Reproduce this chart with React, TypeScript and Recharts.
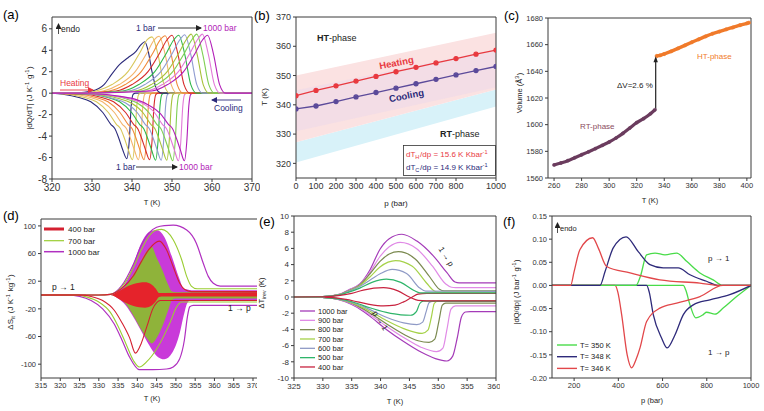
import React from 'react';
import { ComposedChart, Line, Area, XAxis, YAxis, Scatter } from 'recharts';

type P = [number, number];
type B = [number, number, number];
const pts = (a: P[]) => a.map(([x, y]) => ({ x, y }));
const rng = (a: B[]) => a.map(([x, lo, hi]) => ({ x, r: [lo, hi] }));

const FONT = '"Liberation Sans", Arial, sans-serif';
const AX = '#3a3a3a';

// ---------------- (a) ----------------
const aLabels = ['1 bar', '100 bar', '200 bar', '300 bar', '400 bar', '500 bar', '600 bar', '700 bar', '800 bar', '900 bar', '1000 bar'];
const aColors = ['#2b2a7a', '#d8c75a', '#f3b56c', '#f08a3a', '#d62a2a', '#2fb84a', '#8e9bd0', '#a8c23a', '#7fcf52', '#e27ad8', '#b21eb8'];
const aXTicks = [320, 330, 340, 350, 360, 370];
const aYTicks = [-8, -6, -4, -2, 0, 2, 4, 6];
const aHeat: P[][] = [
  [[320, 0], [326, 0.02], [330, 0.2], [333, 0.8], [335, 1.8], [337, 2.7], [339, 3.3], [341, 3.9], [342.2, 4.5], [343.2, 4.8], [344, 4.0], [345, 2.0], [346, 0.5], [347, 0.05], [348, 0], [370, 0]],
  [[320, 0], [328, 0], [331, 0.2], [335, 0.8], [339, 2.0], [342, 3.8], [343.8, 5.0], [345, 5.25], [346.5, 3.6], [348, 0.8], [349.5, 0], [370, 0]],
  [[320, 0], [328, 0], [332.8, 0.2], [336.8, 0.8], [340.8, 2.0], [343.8, 3.8], [345.6, 5.0], [346.8, 5.3], [348.3, 3.6], [349.8, 0.8], [351.3, 0], [370, 0]],
  [[320, 0], [328, 0], [334.3, 0.2], [338.3, 0.8], [342.3, 2.0], [345.3, 3.8], [347.1, 5.0], [348.3, 5.35], [349.8, 3.6], [351.3, 0.8], [352.8, 0], [370, 0]],
  [[320, 0], [328, 0], [336, 0.2], [340, 0.8], [344, 2.0], [347, 3.8], [348.8, 5.0], [350, 5.4], [351.5, 3.6], [353, 0.8], [354.5, 0], [370, 0]],
  [[320, 0], [328, 0], [337.7, 0.2], [341.7, 0.8], [345.7, 2.0], [348.7, 3.8], [350.5, 5.0], [351.7, 5.4], [353.2, 3.6], [354.7, 0.8], [356.2, 0], [370, 0]],
  [[320, 0], [328, 0], [339.2, 0.2], [343.2, 0.8], [347.2, 2.0], [350.2, 3.8], [352, 5.0], [353.2, 5.45], [354.7, 3.6], [356.2, 0.8], [357.7, 0], [370, 0]],
  [[320, 0], [328, 0], [340.8, 0.2], [344.8, 0.8], [348.8, 2.0], [351.8, 3.8], [353.6, 5.0], [354.8, 5.5], [356.3, 3.6], [357.8, 0.8], [359.3, 0], [370, 0]],
  [[320, 0], [328, 0], [342.2, 0.2], [346.2, 0.8], [350.2, 2.0], [353.2, 3.8], [355, 5.0], [356.2, 5.5], [357.7, 3.6], [359.2, 0.8], [360.7, 0], [370, 0]],
  [[320, 0], [328, 0], [343.6, 0.2], [347.6, 0.8], [351.6, 2.0], [354.6, 3.8], [356.4, 5.0], [357.6, 5.5], [359.1, 3.6], [360.6, 0.8], [362.1, 0], [370, 0]],
  [[320, 0], [328, 0], [344.9, 0.2], [348.9, 0.8], [352.9, 2.0], [355.9, 3.8], [357.7, 5.0], [358.9, 5.4], [360.4, 3.6], [361.9, 0.8], [363.4, 0], [370, 0]],
];
const aCool: P[][] = [
  [[320, 0], [322.7, -0.1], [326.7, -0.4], [329.7, -0.8], [332.7, -1.8], [334.7, -2.9], [335.7, -3.3], [336.7, -4.2], [337.7, -5.3], [338.7, -6.1], [339.3, -4.5], [339.8, -1.2], [340.3, -0.1], [340.9, 0], [370, 0]],
  [[320, 0], [324.1, -0.1], [328.1, -0.4], [331.1, -0.8], [334.1, -1.8], [336.1, -2.9], [337.1, -3.3], [338.1, -4.2], [339.1, -5.3], [340.1, -6.2], [340.7, -4.5], [341.2, -1.2], [341.7, -0.1], [342.3, 0], [370, 0]],
  [[320, 0], [325.6, -0.1], [329.6, -0.4], [332.6, -0.8], [335.6, -1.8], [337.6, -2.9], [338.6, -3.3], [339.6, -4.2], [340.6, -5.3], [341.6, -6.2], [342.2, -4.5], [342.7, -1.2], [343.2, -0.1], [343.8, 0], [370, 0]],
  [[320, 0], [327, -0.1], [331, -0.4], [334, -0.8], [337, -1.8], [339, -2.9], [340, -3.3], [341, -4.2], [342, -5.3], [343, -6.2], [343.6, -4.5], [344.1, -1.2], [344.6, -0.1], [345.2, 0], [370, 0]],
  [[320, 0], [328.4, -0.1], [332.4, -0.4], [335.4, -0.8], [338.4, -1.8], [340.4, -2.9], [341.4, -3.3], [342.4, -4.2], [343.4, -5.3], [344.4, -6.2], [345, -4.5], [345.5, -1.2], [346, -0.1], [346.6, 0], [370, 0]],
  [[320, 0], [329.9, -0.1], [333.9, -0.4], [336.9, -0.8], [339.9, -1.8], [341.9, -2.9], [342.9, -3.3], [343.9, -4.2], [344.9, -5.3], [345.9, -6.25], [346.5, -4.5], [347, -1.2], [347.5, -0.1], [348.1, 0], [370, 0]],
  [[320, 0], [328, -0.05], [331.3, -0.15], [335.3, -0.5], [338.3, -0.9], [341.3, -1.8], [343.3, -2.9], [344.3, -3.3], [345.3, -4.2], [346.3, -5.3], [347.3, -6.25], [347.9, -4.5], [348.4, -1.2], [348.9, -0.1], [349.5, 0], [370, 0]],
  [[320, 0], [329, -0.05], [332.7, -0.2], [336.7, -0.5], [339.7, -0.9], [342.7, -1.8], [344.7, -2.9], [345.7, -3.3], [346.7, -4.2], [347.7, -5.3], [348.7, -6.25], [349.3, -4.5], [349.8, -1.2], [350.3, -0.1], [350.9, 0], [370, 0]],
  [[320, 0], [330, -0.05], [334.2, -0.2], [338.2, -0.5], [341.2, -0.9], [344.2, -1.8], [346.2, -2.9], [347.2, -3.3], [348.2, -4.2], [349.2, -5.3], [350.2, -6.3], [350.8, -4.5], [351.3, -1.2], [351.8, -0.1], [352.4, 0], [370, 0]],
  [[320, 0], [330, -0.05], [335.6, -0.25], [339.6, -0.55], [342.6, -0.95], [345.6, -1.8], [347.6, -2.9], [348.6, -3.3], [349.6, -4.2], [350.6, -5.3], [351.6, -6.3], [352.2, -4.5], [352.7, -1.2], [353.2, -0.1], [353.8, 0], [370, 0]],
  [[320, 0], [330, -0.05], [337.1, -0.3], [341.1, -0.6], [344.1, -1.1], [347.1, -1.9], [349.1, -2.9], [350.1, -3.3], [351.1, -4.2], [352.1, -5.3], [353.1, -6.3], [353.7, -4.5], [354.2, -1.2], [354.7, -0.1], [355.3, 0], [370, 0]],
];

// ---------------- (b) ----------------
const bP = [0, 100, 200, 300, 400, 500, 600, 700, 800, 900, 1000];
const bHeat = [343.1, 344.9, 346.5, 348.1, 349.7, 351.3, 352.8, 354.3, 355.8, 357.3, 358.7];
const bCool = [338.6, 339.6, 341.1, 342.7, 344.2, 345.7, 347.2, 348.7, 350.2, 351.7, 353.1];
const bPinkBand: B[] = [[0, 327.2, 350], [1000, 345.2, 364.6]];
const bCyanBand: B[] = [[0, 320.3, 327.2], [1000, 339.4, 345.2]];
const bLavBand: B[] = [[0, 331, 345], [1000, 346, 359]];
const bXTicks = [0, 100, 200, 300, 400, 500, 600, 700, 800, 900, 1000];
const bYTicks = [320, 330, 340, 350, 360, 370];

// ---------------- (c) ----------------
const cRT: P[] = [[260, 1569.8], [265, 1571.3], [270, 1573], [275, 1575.2], [280, 1577.4], [285, 1579.6], [290, 1582], [295, 1584.5], [300, 1587], [305, 1590], [310, 1593.5], [315, 1597.5], [320, 1601.5], [325, 1604.5], [330, 1608.2], [333.3, 1611.2]];
const cHT: P[] = [[334.5, 1651.5], [337, 1652], [340, 1653], [345, 1655], [350, 1657.2], [355, 1659.5], [360, 1661.8], [365, 1664], [370, 1666.2], [375, 1668.2], [380, 1669.8], [385, 1671.5], [390, 1673], [395, 1674.6], [400, 1676], [401.5, 1676.5]];
const cJump: P[] = [[333.8, 1612], [333.8, 1650]];
const cHead: P[] = [[333.8, 1649]];
const cXTicks = [260, 280, 300, 320, 340, 360, 380, 400];
const cYTicks = [1560, 1580, 1600, 1620, 1640, 1660, 1680];

// ---------------- (d) ----------------
const dXTicks = [315, 320, 325, 330, 335, 340, 345, 350, 355, 360, 365, 370];
const dYTicks = [-120, -100, -80, -60, -40, -20, 0, 20, 40, 60, 80, 100];
const dFillMag: B[] = [[315, 0, 0], [333, 0, 0], [335, -5, 6], [337, -15, 18], [339, -32, 45], [341, -52, 75], [343, -72, 91], [345, -88, 94], [347, -93, 84], [349, -84, 55], [351, -55, 22], [352, -30, 9], [353, -11, 8], [354, -7, 7], [371.3, -7, 7]];
const dFillGreen: B[] = [[315, 0, 0], [333, 0, 0], [335, -4, 4], [337, -13, 13], [339, -30, 30], [341, -50, 50], [342.5, -63, 64], [343.7, -70, 70], [345, -62, 54], [346.5, -45, 36], [348, -22, 15], [349, -7, 5], [350, -5, 4], [371.3, -5, 4]];
const dFillRed: B[] = [[315, 0, 0], [333, 0, 0], [335, -5, 5], [336.5, -10, 10], [339, -16, 16], [342, -18.5, 18.5], [343.5, -16, 16], [344.8, -9, 9], [345.6, -3, 3], [346.2, -2, 3], [371.3, -2, 4]];
const dRedUp: P[] = [[315, 0], [330, 0], [333, 1], [336, 10], [339, 28], [341, 48], [343, 66], [345.7, 78], [347.6, 65], [349.3, 41], [351, 17], [352.3, 8], [354, 5], [371.3, 5]];
const dRedLo: P[] = [[315, 0], [325, 0], [328, -2], [331, -8], [334, -22], [336, -40], [338, -62], [339.5, -84], [341, -70], [342.5, -45], [344, -20], [345, -11], [346, -8], [371.3, -8]];
const dGreenUp: P[] = [[315, 0], [330, 0], [333, 1], [336, 12], [339, 40], [341, 65], [343, 85], [345, 94], [346.3, 95], [349.3, 80], [351.5, 51], [352.8, 27], [354, 13], [355.5, 9], [371.3, 9]];
const dGreenLo: P[] = [[315, 0], [324, 0], [327, -3], [330, -10], [333, -25], [335, -45], [337, -70], [339, -95], [340.5, -104], [342.5, -96], [345, -78], [348.4, -41], [350.2, -17], [351.5, -10], [371.3, -10]];
const dMagUp: P[] = [[315, 0], [330, 0], [333, 1], [336, 14], [339, 45], [341, 72], [343, 90], [345, 98], [347, 100.5], [349.3, 101], [352.8, 94], [355.3, 75], [357.1, 46], [358.4, 27], [359.7, 17], [361.5, 13], [371.3, 13]];
const dMagLo: P[] = [[315, 0], [322, 0], [325, -2], [328, -8], [331, -20], [334, -42], [336, -65], [338, -90], [340.5, -108], [344, -108], [347.6, -107], [349.3, -104], [351, -92], [352.2, -65], [353, -31], [353.6, -17], [354.5, -15], [371.3, -15]];

// ---------------- (e) ----------------
const eLabels = ['1000 bar', '900 bar', '800 bar', '700 bar', '600 bar', '500 bar', '400 bar'];
const eColors = ['#a43bb8', '#e08ae6', '#7b8a50', '#a6d24a', '#8f9ac6', '#2fb56a', '#c8233f'];
const eXTicks = [325, 330, 335, 340, 345, 350, 355, 360];
const eYTicks = [-10, -8, -6, -4, -2, 0, 2, 4, 6, 8, 10];
const eUp: P[][] = [
  [[325, 0], [330, 0.05], [333, 0.35], [334.5, 0.9], [336.4, 1.6], [338.2, 3.4], [339.9, 5.9], [341.5, 7.2], [343.7, 7.75], [346.3, 6.9], [349.1, 5.1], [351.5, 3.0], [352.9, 1.85], [353.6, 1.75], [360, 1.75]],
  [[325, 0], [330, 0.05], [333, 0.35], [334.5, 0.85], [336.4, 1.55], [338.2, 3.1], [339.9, 5.0], [341.5, 6.2], [343.4, 6.75], [346.2, 6.0], [349, 3.8], [351.3, 1.6], [352.3, 1.2], [353, 1.15], [360, 1.15]],
  [[325, 0], [330, 0.05], [333, 0.33], [334.5, 0.8], [336.4, 1.5], [338.2, 2.9], [339.9, 4.4], [341.5, 5.3], [343.1, 5.6], [346, 4.7], [348.5, 2.5], [350.2, 0.95], [351, 0.75], [360, 0.75]],
  [[325, 0], [330, 0.05], [333, 0.32], [334.5, 0.75], [336.4, 1.4], [338.2, 2.5], [339.9, 3.7], [341.3, 4.3], [342.6, 4.5], [345.5, 3.8], [348, 1.7], [349.3, 0.75], [350, 0.62], [360, 0.62]],
  [[325, 0], [330, 0.05], [333, 0.3], [334.5, 0.7], [336.4, 1.3], [338.2, 2.1], [340, 2.9], [342, 3.4], [344.5, 2.9], [346.8, 1.1], [347.8, 0.72], [360, 0.7]],
  [[325, 0], [330, 0.05], [333, 0.28], [334.5, 0.6], [336.4, 1.1], [338.5, 1.8], [341, 2.2], [343.5, 1.8], [345.8, 0.8], [346.8, 0.52], [360, 0.5]],
  [[325, 0], [330, 0.03], [333, 0.2], [335, 0.45], [337, 0.85], [340.5, 1.15], [343, 0.75], [345, 0], [346.5, -0.42], [348, -0.48], [360, -0.48]],
];
const eLo: P[][] = [
  [[325, 0], [331, -0.1], [334, -0.6], [336, -1.3], [338, -2.3], [341, -4], [344, -5.5], [347, -6.8], [349.5, -7.6], [351.5, -7.9], [352.5, -7.3], [353.3, -5], [354, -2.5], [354.7, -1.85], [355.5, -1.8], [360, -1.8]],
  [[325, 0], [331, -0.1], [334, -0.55], [336, -1.2], [338, -2.1], [341, -3.6], [344, -5], [347, -6.2], [349.7, -6.75], [350.8, -6.3], [351.5, -4], [352.2, -1.5], [353, -1.1], [360, -1.1]],
  [[325, 0], [331, -0.1], [334, -0.5], [336, -1.1], [338, -1.9], [341, -3.3], [344, -4.6], [346.5, -5.4], [348.4, -5.6], [349.4, -5.2], [350.1, -3], [350.7, -1], [351.3, -0.75], [360, -0.75]],
  [[325, 0], [331, -0.1], [334, -0.5], [336, -1.0], [338, -1.7], [341, -2.9], [344, -3.9], [347.2, -4.5], [348.2, -4.1], [348.8, -2.5], [349.3, -0.8], [349.9, -0.5], [360, -0.5]],
  [[325, 0], [331, -0.1], [334, -0.45], [336, -0.9], [338, -1.5], [341, -2.5], [344, -3.2], [346.3, -3.4], [347.3, -3.1], [347.9, -1.8], [348.4, -0.7], [349, -0.55], [360, -0.55]],
  [[325, 0], [331, -0.1], [334, -0.4], [336, -0.8], [338, -1.3], [341, -1.9], [343.5, -2.2], [345.2, -2.25], [346.2, -1.8], [346.8, -0.8], [347.4, -0.5], [360, -0.5]],
  [[325, 0], [331, -0.05], [334, -0.3], [336, -0.6], [338, -0.9], [340.5, -1.1], [342.5, -1.0], [344, -0.6], [345.5, 0], [346.5, 0.35], [348, 0.45], [360, 0.45]],
];

// ---------------- (f) ----------------
const fLabels = ['T= 350 K', 'T= 348 K', 'T= 346 K'];
const fColors = ['#49dc49', '#2e2a7a', '#e2474a'];
const fXTicks = [200, 400, 600, 800, 1000];
const fYTicks = [-0.2, -0.15, -0.1, -0.05, 0, 0.05, 0.1, 0.15];
const fUp: P[][] = [
  [[100, 0], [480, 0], [500, 0.02], [528, 0.066], [566, 0.07], [611, 0.066], [664, 0.07], [709, 0.052], [769, 0.027], [829, 0.012], [873, 0], [1000, 0]],
  [[100, 0], [317, 0], [340, 0.03], [377, 0.081], [435, 0.105], [490, 0.073], [543, 0.045], [603, 0.038], [671, 0.038], [724, 0.023], [799, 0.009], [850, 0], [1000, 0]],
  [[100, 0], [184, 0], [200, 0.03], [226, 0.077], [284, 0.103], [310, 0.08], [347, 0.041], [453, 0.027], [588, 0.012], [769, 0.005], [860, 0], [1000, 0]],
];
const fLo: P[][] = [
  [[100, 0], [694, 0], [705, -0.01], [724, -0.042], [750, -0.07], [784, -0.063], [799, -0.058], [837, -0.062], [874, -0.049], [935, -0.024], [1000, 0]],
  [[100, 0], [528, 0], [540, -0.015], [558, -0.063], [596, -0.114], [621, -0.135], [656, -0.107], [694, -0.063], [739, -0.042], [814, -0.031], [904, -0.02], [1000, 0]],
  [[100, 0], [385, 0], [398, -0.015], [415, -0.063], [440, -0.15], [460, -0.178], [480, -0.16], [498, -0.135], [528, -0.078], [588, -0.049], [664, -0.038], [769, -0.024], [873, 0], [1000, 0]],
];

// ---------------- helpers ----------------
const tk = (fs: number) => ({ fontSize: fs, fill: '#333', fontFamily: FONT });
const frame = (xd: number[], yd: number[]) => [
  <XAxis key="ft" xAxisId="ft" orientation="top" type="number" dataKey="x" domain={xd} mirror tick={false} tickLine={false} stroke={AX} allowDataOverflow />,
  <YAxis key="fr" yAxisId="fr" orientation="right" type="number" domain={yd} mirror tick={false} tickLine={false} stroke={AX} allowDataOverflow />,
];
const ln = (key: string, data: P[], color: string, w = 1.1) => (
  <Line key={key} data={pts(data)} dataKey="y" type="monotone" stroke={color} strokeWidth={w} dot={false} isAnimationActive={false} />
);
const ar = (key: string, data: B[], color: string, op = 1) => (
  <Area key={key} data={rng(data)} dataKey="r" type="monotone" stroke="none" fill={color} fillOpacity={op} isAnimationActive={false} />
);

const Sup = ({ t }: { t: string }) => (
  <>
    <tspan dy={-3} fontSize="0.7em">{t}</tspan>
    <tspan dy={3}>{'\u200a'}</tspan>
  </>
);
const Sub = ({ t }: { t: string }) => (
  <>
    <tspan dy={2} fontSize="0.7em">{t}</tspan>
    <tspan dy={-2}>{'\u200a'}</tspan>
  </>
);

const Overlay = () => (
  <svg width={764} height={411} style={{ position: 'absolute', left: 0, top: 0, pointerEvents: 'none' }} fontFamily={FONT}>
    <defs>
      {['#222', '#e8393f', '#2b2a7a'].map((c, i) => (
        <marker key={i} id={'ah' + i} markerWidth="6" markerHeight="6" refX="5" refY="3" orient="auto" markerUnits="userSpaceOnUse">
          <path d="M0,0 L6,3 L0,6 Z" fill={c} />
        </marker>
      ))}
    </defs>
    {/* panel labels */}
    <text x={3} y={19} fontSize={13}>(a)</text>
    <text x={254} y={20} fontSize={13}>(b)</text>
    <text x={504} y={20} fontSize={13}>(c)</text>
    <text x={3} y={220} fontSize={13}>(d)</text>
    <text x={259} y={226} fontSize={13}>(e)</text>
    <text x={503} y={226} fontSize={13}>(f)</text>

    {/* (a) */}
    <line x1={58.5} y1={34} x2={58.5} y2={24} stroke="#222" strokeWidth={0.8} markerEnd="url(#ah0)" />
    <text x={61} y={32} fontSize={8.5} fill="#222">endo</text>
    <text x={136} y={31} fontSize={8.5} fill="#2b2a7a">1 bar</text>
    <line x1={158} y1={28} x2={201} y2={28} stroke="#222" strokeWidth={0.9} markerEnd="url(#ah0)" />
    <text x={203} y={31} fontSize={8.5} fill="#b21eb8">1000 bar</text>
    <text x={60} y={86} fontSize={8.5} fill="#e8393f">Heating</text>
    <line x1={60} y1={90} x2={93} y2={90} stroke="#e8393f" strokeWidth={0.9} markerEnd="url(#ah1)" />
    <line x1={241} y1={100} x2={212} y2={100} stroke="#2b2a7a" strokeWidth={0.9} markerEnd="url(#ah2)" />
    <text x={214} y={111} fontSize={8.5} fill="#2b2a7a">Cooling</text>
    <text x={116} y={170} fontSize={8.5} fill="#2b2a7a">1 bar</text>
    <line x1={136} y1={167} x2={177} y2={167} stroke="#222" strokeWidth={0.9} markerEnd="url(#ah0)" />
    <text x={179} y={170} fontSize={8.5} fill="#b21eb8">1000 bar</text>
    <text transform="translate(32,98) rotate(-90)" textAnchor="middle" fontSize={8} fill="#222">|dQ/dT| (J K<Sup t="-1" /> g<Sup t="-1" />)</text>
    <text x={152} y={205} textAnchor="middle" fontSize={7.5} fill="#222">T (K)</text>

    {/* (b) */}
    <text transform="translate(267,97) rotate(-90)" textAnchor="middle" fontSize={8} fill="#222">T (K)</text>
    <text x={396} y={206} textAnchor="middle" fontSize={8} fill="#222">p (bar)</text>
    <text x={317} y={41} fontSize={9} fill="#222"><tspan fontWeight="bold">HT</tspan>-phase</text>
    <text x={440} y={137} fontSize={9} fill="#222"><tspan fontWeight="bold">RT</tspan>-phase</text>
    <text transform="translate(397,66) rotate(-11)" textAnchor="middle" fontSize={9.5} fontWeight="bold" fill="#e8393f">Heating</text>
    <text transform="translate(407,99) rotate(-11)" textAnchor="middle" fontSize={9.5} fontWeight="bold" fill="#2b2a7a">Cooling</text>
    <rect x={403.5} y={145.5} width={92} height={30} fill="none" stroke="#333" strokeWidth={0.8} />
    <text x={406} y={157} fontSize={8} fill="#e8393f">dT<Sub t="H" />/dp = 15.6 K Kbar<Sup t="-1" /></text>
    <text x={406} y={170} fontSize={8} fill="#2b2a7a">dT<Sub t="C" />/dp = 14.9 K Kbar<Sup t="-1" /></text>

    {/* (c) */}
    <text transform="translate(522,93) rotate(-90)" textAnchor="middle" fontSize={7.5} fill="#222">Volume (Å<Sup t="3" />)</text>
    <text x={650} y={203} textAnchor="middle" fontSize={7.5} fill="#222">T (K)</text>
    <text x={617} y={88} fontSize={8} fill="#222">ΔV=2.6 %</text>
    <text x={580} y={129} fontSize={8} fill="#8b4c5e">RT-phase</text>
    <text x={697} y={59} fontSize={8} fill="#f07a2a">HT-phase</text>

    {/* (d) */}
    <text transform="translate(13,302) rotate(-90)" textAnchor="middle" fontSize={8} fill="#222">ΔS<Sub t="it" /> (J K<Sup t="-1" /> kg<Sup t="-1" />)</text>
    <text x={152} y={401} textAnchor="middle" fontSize={7.5} fill="#222">T (K)</text>
    <line x1={44} y1={229} x2={64} y2={229} stroke="#d42030" strokeWidth={3} />
    <line x1={44} y1={240.7} x2={64} y2={240.7} stroke="#9acd32" strokeWidth={1.2} />
    <line x1={44} y1={251.7} x2={64} y2={251.7} stroke="#b030c0" strokeWidth={1.5} />
    <text x={68} y={232} fontSize={8} fill="#222">400 bar</text>
    <text x={68} y={243.7} fontSize={8} fill="#222">700 bar</text>
    <text x={68} y={254.7} fontSize={8} fill="#222">1000 bar</text>
    <text x={52} y={290} fontSize={8.5} fill="#222">p → 1</text>
    <text x={228} y={311} fontSize={8.5} fill="#222">1 → p</text>

    {/* (e) */}
    <text transform="translate(264,293) rotate(-90)" textAnchor="middle" fontSize={7.5} fill="#222">ΔT<Sub t="irev" /> (K)</text>
    <text x={395} y={404} textAnchor="middle" fontSize={7.5} fill="#222">T (K)</text>
    {eLabels.map((l, i) => (
      <g key={l}>
        <line x1={300} y1={311 + i * 9.33} x2={315} y2={311 + i * 9.33} stroke={eColors[i]} strokeWidth={1.3} />
        <text x={318} y={313.7 + i * 9.33} fontSize={7.5} fill="#222">{l}</text>
      </g>
    ))}
    <text transform="translate(444,258) rotate(58)" textAnchor="middle" fontSize={8} fill="#222">1 → p</text>
    <text transform="translate(378,322) rotate(58)" textAnchor="middle" fontSize={8} fill="#222">p → 1</text>

    {/* (f) */}
    <text transform="translate(519,292) rotate(-90)" textAnchor="middle" fontSize={7.5} fill="#222">|dQ/dp| (J bar<Sup t="-1" /> g<Sup t="-1" />)</text>
    <text x={652} y={403} textAnchor="middle" fontSize={7.5} fill="#222">p (bar)</text>
    <line x1={557.5} y1={233} x2={557.5} y2={223} stroke="#222" strokeWidth={0.8} markerEnd="url(#ah0)" />
    <text x={560} y={231} fontSize={7.5} fill="#222">endo</text>
    <text x={708} y={261} fontSize={8} fill="#222">p → 1</text>
    <text x={708} y={355} fontSize={8} fill="#222">1 → p</text>
    {fLabels.map((l, i) => (
      <g key={l}>
        <line x1={557} y1={345 + i * 11.7} x2={577} y2={345 + i * 11.7} stroke={fColors[i]} strokeWidth={1.4} />
        <text x={580} y={347.7 + i * 11.7} fontSize={7.5} fill="#222">{l}</text>
      </g>
    ))}
  </svg>
);

const box = (left: number, top: number, bg = false): React.CSSProperties => ({
  position: 'absolute', left, top, background: bg ? '#fff' : undefined,
});

export default function App() {
  const aX = [320, 370];
  const aY = [-8, 7.1];
  const bX = [0, 1000];
  const bY = [315, 370];
  const cX = [255.6, 403];
  const cY = [1560, 1680];
  const dX = [315, 371.3];
  const dY = [-120, 110];
  const eX = [325, 360];
  const eY = [-10, 10];
  const fX = [100, 1000];
  const fY = [-0.2, 0.15];
  return (
    <div style={{ position: 'absolute', left: 0, top: 0, width: 764, height: 411, background: '#fff', overflow: 'hidden', fontFamily: FONT }}>
      {/* (a) */}
      <div style={box(0, 0)}>
        <ComposedChart width={260} height={205} margin={{ top: 17, right: 8, bottom: 0, left: 0 }}>
          <XAxis dataKey="x" type="number" domain={aX} ticks={aXTicks} height={26} tick={tk(10)} tickSize={3} stroke={AX} allowDataOverflow />
          <YAxis type="number" domain={aY} ticks={aYTicks} width={52} tick={tk(10)} tickSize={3} stroke={AX} allowDataOverflow />
          {frame(aX, aY)}
          {aCool.map((d, i) => ln('c' + i, d, aColors[i]))}
          {aHeat.map((d, i) => ln('h' + i, d, aColors[i]))}
        </ComposedChart>
      </div>

      {/* (b) */}
      <div style={box(255, 0)}>
        <ComposedChart width={265} height={205} margin={{ top: 17, right: 24, bottom: 0, left: 0 }}>
          <XAxis dataKey="x" type="number" domain={bX} ticks={bXTicks} height={27} tick={tk(9)} tickSize={3} stroke={AX} allowDataOverflow />
          <YAxis type="number" domain={bY} ticks={bYTicks} width={41} tick={tk(9)} tickSize={3} stroke={AX} allowDataOverflow />
          {frame(bX, bY)}
          {ar('cy', bCyanBand, '#d8f2f9')}
          {ar('pk', bPinkBand, '#fbe2e2')}
          {ar('lv', bLavBand, '#e6d3ee', 0.35)}
          <Line data={bP.map((p, i) => ({ x: p, y: bHeat[i] }))} dataKey="y" type="linear" stroke="#e8393f" strokeWidth={1.3} dot={{ r: 2, fill: '#e8393f', stroke: '#e8393f' }} isAnimationActive={false} />
          <Line data={bP.map((p, i) => ({ x: p, y: bCool[i] }))} dataKey="y" type="linear" stroke="#5b4a9a" strokeWidth={1.3} dot={{ r: 2, fill: '#5b4a9a', stroke: '#5b4a9a' }} isAnimationActive={false} />
        </ComposedChart>
      </div>

      {/* (c) */}
      <div style={box(510, 0)}>
        <ComposedChart width={254} height={205} margin={{ top: 18, right: 13, bottom: 0, left: 0 }}>
          <XAxis dataKey="x" type="number" domain={cX} ticks={cXTicks} height={27} tick={tk(7.5)} tickSize={3} stroke={AX} allowDataOverflow />
          <YAxis type="number" domain={cY} ticks={cYTicks} width={38} tick={tk(7.5)} tickSize={3} stroke={AX} allowDataOverflow />
          {frame(cX, cY)}
          <Line data={pts(cJump)} dataKey="y" type="linear" stroke="#222" strokeWidth={1.2} dot={false} isAnimationActive={false} />
          <Line data={pts(cRT)} dataKey="y" type="monotone" stroke="#6b3c5e" strokeWidth={3.2} dot={{ r: 1.6, fill: '#6b3c5e', stroke: '#6b3c5e', strokeWidth: 0.5 }} isAnimationActive={false} />
          <Line data={pts(cHT)} dataKey="y" type="monotone" stroke="#f07a2a" strokeWidth={3.4} dot={{ r: 1.7, fill: '#f07a2a', stroke: '#f07a2a', strokeWidth: 0.5 }} isAnimationActive={false} />
          <Scatter data={pts(cHead)} dataKey="y" isAnimationActive={false}
            shape={(p: any) => <path d={`M${p.cx},${p.cy - 3} L${p.cx - 2.2},${p.cy + 3} L${p.cx + 2.2},${p.cy + 3} Z`} fill="#222" />} />
        </ComposedChart>
      </div>

      {/* (d) */}
      <div style={box(0, 205)}>
        <ComposedChart width={262} height={206} margin={{ top: 14, right: 4, bottom: 0, left: 0 }}>
          <XAxis dataKey="x" type="number" domain={dX} ticks={dXTicks} height={33} tick={tk(7.5)} tickSize={3} stroke={AX} allowDataOverflow />
          <YAxis type="number" domain={dY} ticks={dYTicks} width={41} tick={tk(7.5)} tickSize={3} stroke={AX} allowDataOverflow />
          {frame(dX, dY)}
          {ar('fm', dFillMag, '#c93ad9')}
          {ar('fg', dFillGreen, '#8fb33a')}
          {ar('fr', dFillRed, '#e5232b')}
          {ln('mu', dMagUp, '#b030c0', 1.2)}
          {ln('ml', dMagLo, '#b030c0', 1.2)}
          {ln('gu', dGreenUp, '#9acd32', 1.1)}
          {ln('gl', dGreenLo, '#9acd32', 1.1)}
          {ln('ru', dRedUp, '#d42030', 1.1)}
          {ln('rl', dRedLo, '#d42030', 1.1)}
        </ComposedChart>
      </div>

      {/* (e) */}
      <div style={box(257, 205, true)}>
        <ComposedChart width={243} height={206} margin={{ top: 11, right: 4, bottom: 0, left: 0 }}>
          <XAxis dataKey="x" type="number" domain={eX} ticks={eXTicks} height={33} tick={tk(8)} tickSize={3} stroke={AX} allowDataOverflow />
          <YAxis type="number" domain={eY} ticks={eYTicks} width={37} tick={tk(8)} tickSize={3} stroke={AX} allowDataOverflow />
          {frame(eX, eY)}
          {eLo.map((d, i) => ln('el' + i, d, eColors[i], 1.2))}
          {eUp.map((d, i) => ln('eu' + i, d, eColors[i], 1.2))}
        </ComposedChart>
      </div>

      {/* (f) */}
      <div style={box(500, 205, true)}>
        <ComposedChart width={264} height={206} margin={{ top: 11, right: 13, bottom: 0, left: 0 }}>
          <XAxis dataKey="x" type="number" domain={fX} ticks={fXTicks} height={33} tick={tk(7.5)} tickSize={3} stroke={AX} allowDataOverflow />
          <YAxis type="number" domain={fY} ticks={fYTicks} width={52} tick={tk(7.5)} tickSize={3} stroke={AX} allowDataOverflow tickFormatter={(v: number) => v.toFixed(2)} />
          {frame(fX, fY)}
          {fLo.map((d, i) => ln('fl' + i, d, fColors[i], 1.3))}
          {fUp.map((d, i) => ln('fu' + i, d, fColors[i], 1.3))}
        </ComposedChart>
      </div>

      <Overlay />
    </div>
  );
}
